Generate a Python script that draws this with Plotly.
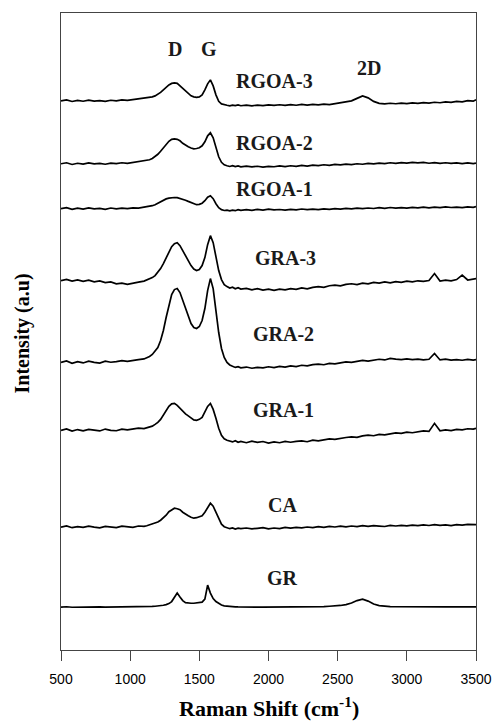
import plotly.graph_objects as go

# Raman shift sampling positions (cm^-1)
shift = [500, 540, 580, 620, 660, 700, 740, 780, 820, 860, 900, 940, 980, 1020, 1060, 1100,
         1120, 1140, 1160, 1180, 1200, 1220, 1240, 1260, 1280, 1300,
         1320, 1340, 1360, 1380, 1400, 1420, 1440, 1460, 1480, 1500, 1520, 1540, 1560, 1580, 1600,
         1620, 1640, 1660, 1680, 1700, 1720, 1740, 1760, 1780, 1800,
         1840, 1880, 1920, 1960, 2000, 2040, 2080, 2120, 2160, 2200, 2240, 2280, 2320, 2360, 2400,
         2440, 2480, 2520, 2560,
         2600, 2640, 2680, 2720, 2760, 2800, 2840, 2880, 2920, 2960, 3000, 3040, 3080, 3120, 3160,
         3200, 3240, 3280, 3320, 3360, 3400, 3440, 3480, 3500]

# Stacked intensities (a.u., offset for display)
gr = [43, 43.3, 42.8, 43, 43.2, 43, 42.9, 43.1, 43, 43, 43.2, 43, 42.9, 43.1, 43.2, 43.3,
      43.4, 43.5, 43.6, 43.8, 44, 44.3, 44.8, 45.5, 46.5, 48.5,
      53, 57, 53, 49.5, 47.5, 47, 46.8, 46.8, 47, 47.2, 48, 51, 65, 57, 51.5, 48.5, 46.5, 45, 44.2, 43.8, 43.5, 43.3, 43.2, 43.1, 43,
      43, 43.1, 42.9, 43, 43, 43.1, 43, 42.9, 43, 43.1, 43, 43, 43.2, 43.3, 43.5, 43.8, 44.1, 44.6, 45.5,
      47, 49.5, 51, 49, 46, 44.5, 43.8, 43.5, 43.3, 43.2, 43.2, 43.1, 43.2, 43, 43.1, 43.2, 43, 43.1, 43.2, 43, 43.1, 43.2, 43.1, 43.2]

ca = [123, 124.2, 122.5, 123.6, 122.8, 124, 123.1, 122.4, 123.8, 123, 122.6, 124.1, 123.3, 122.9, 124.2, 123.8,
      124.5, 125.5, 126, 127.5, 128.2, 130, 132.5, 135, 138.5, 140.5,
      142, 141.5, 140.5, 138, 136, 134.5, 133, 132, 132.5, 133.5, 134.5, 138, 143, 147, 144, 138, 131, 126, 123.5, 122.5, 121.5, 122.3, 121.2, 122, 121.5,
      122.2, 121.3, 121.9, 122.5, 121.4, 122.2, 121.6, 122.8, 122.1, 122.9, 122.4, 123.2, 122.6, 123.5, 122.9, 123.8, 123.2, 124.1, 123.4,
      124.2, 123.6, 124.5, 123.9, 124.6, 124.1, 123.7, 124.8, 124.2, 124.9, 124.4, 125.1, 124.5, 125.3, 124.7, 125.6, 124.9, 125.3, 124.6, 125.5, 125.1, 125.8, 125.2, 125.6]

gra1 = [220, 221.5, 219.2, 220.8, 219.5, 221, 220.2, 219.4, 221.3, 220, 219.6, 221.2, 220.5, 221.6, 222.2, 221.8,
        222.5, 223.5, 224.2, 226, 228, 231, 235, 239.5, 244, 246.5,
        247, 245, 242, 238.5, 236.5, 234.5, 232, 230.5, 230, 231, 233, 238, 244, 247, 241, 232, 222, 215, 211.5, 210, 209.5, 208.4, 209.6, 208, 209,
        207.6, 209.1, 207.9, 208.8, 207.2, 208.5, 207.6, 209, 208.1, 208.9, 209.5, 208.6, 210.2, 209.4, 210.8, 211.5, 210.9, 212.2, 212.8,
        213.5, 212.9, 214.4, 215.2, 214.6, 216, 215.5, 216.8, 217.4, 216.9, 218.2, 217.6, 218.8, 219.5, 218.9, 227, 219.6, 220.4, 219.8, 221, 220.5, 221.6, 221.2, 222]

gra2 = [288, 289.5, 287.2, 288.8, 287.5, 289.2, 288.1, 287.4, 289.3, 288.2, 288.9, 289.8, 289.1, 290.2, 290.8, 291.5,
        292.5, 294, 296, 299, 303, 310, 320, 333, 346, 356,
        361, 362, 358, 350, 341, 333, 327, 323, 322, 324, 330, 342, 360, 372, 362, 340, 318, 302, 293, 288, 285.5, 284.2, 283, 283.8, 282.6,
        283.4, 282.2, 283.1, 282.5, 283.7, 282.8, 284, 283.3, 284.6, 283.9, 285.2, 284.5, 285.8, 286.4, 285.7, 287, 286.5, 287.8, 288.6,
        288, 289.3, 290.1, 289.4, 290.6, 291.2, 290.5, 292, 291.3, 290.8, 291.6, 290.9, 291.4, 290.6, 291.2, 297, 290.5, 291.3, 290.4, 290.9, 290.2, 291, 290.4, 290.8]

gra3 = [370, 371.2, 369.5, 370.6, 369.2, 370.4, 368.8, 369.6, 367.9, 368.6, 366.8, 367.5, 366.2, 367.6, 368.4, 369.5,
        370.5, 371.5, 373, 375, 378, 382, 387, 393, 399, 404,
        407, 408, 405, 400, 394, 389, 385, 381.5, 380, 381, 385, 393, 406, 415, 408, 394, 380, 371, 366, 364, 362.5, 363.4, 361.8, 362.9, 361.5,
        362.2, 360.8, 361.9, 360.5, 361.4, 360.2, 361.5, 360.7, 362, 361.2, 362.6, 361.8, 363.2, 364, 363.3, 364.8, 365.5, 364.7, 366.2,
        366.8, 366, 367.5, 366.8, 368.2, 367.4, 368.6, 367.8, 369, 368.3, 369.4, 368.7, 369.8, 369.2, 370, 377, 369.6, 370.5, 369.8, 371, 375.5, 370.6, 371.5, 372]

rgoa1 = [442, 443, 441.3, 442.5, 441.6, 442.8, 441.8, 442.3, 441.4, 442.7, 441.9, 442.6, 442.1, 442.9, 442.5, 443.2,
         443.6, 444.2, 445, 446, 447.5, 449, 450.5, 451.8, 452.6, 453,
         453.2, 453, 452.4, 451.5, 450.5, 449.3, 448, 446.8, 446, 446.3, 447.5, 450, 453.5, 455, 452, 447, 443, 441, 440.2, 440.5, 439.8, 440.6, 440, 441, 440.3,
         441.1, 440.4, 441.3, 440.6, 441.5, 440.8, 441.2, 440.5, 441.4, 440.9, 441.7, 441, 441.6, 441.1, 441.9, 441.3, 442, 441.5, 442.3,
         441.8, 442.5, 442, 442.7, 442.2, 443, 442.4, 443.2, 442.6, 443.1, 442.5, 443.3, 442.8, 443.5, 442.9, 443.6, 443.1, 443.8, 443.2, 443.6, 443, 443.9, 443.4, 444]

rgoa2 = [487, 488, 486.3, 487.5, 486.6, 487.8, 486.9, 487.3, 486.5, 487.7, 487.1, 488, 487.4, 488.3, 488.8, 489.5,
         490, 491, 492.3, 494, 496.5, 499.5, 503, 506.5, 509.5, 511.5,
         512, 511.5, 510, 507.5, 505.5, 504, 502.8, 502, 502.3, 503, 505, 509, 515, 518, 513, 503, 494, 488.5, 486, 485, 484.3, 485.1, 484.2, 484.8, 483.9,
         484.6, 483.8, 484.5, 483.7, 484.4, 484, 484.8, 484.1, 485, 484.4, 485.3, 484.7, 485.6, 485.1, 486, 485.4, 486.3, 485.8, 486.6,
         486.2, 487, 486.5, 487.3, 486.8, 487.6, 487.1, 488, 487.4, 488.2, 487.6, 488.4, 487.8, 488.3, 487.5, 488.2, 487.4, 488, 487.3, 487.9, 487.2, 487.8, 487.1, 487.6]

rgoa3 = [550, 551, 549.4, 550.5, 549.6, 550.8, 549.8, 550.3, 549.5, 550.6, 550, 550.9, 550.4, 551.2, 551.6, 552.2,
         552.6, 553.3, 554, 555, 556.5, 558.5, 561, 563.5, 566, 567.5,
         568, 567.5, 565, 562, 559, 556.5, 555, 554, 553.5, 554, 556, 561, 567, 571, 565, 556, 549.5, 547, 546, 545.6, 545, 545.8, 545.2, 545.9, 545.1,
         545.7, 545, 545.8, 545.3, 546, 545.4, 546.1, 545.5, 546.2, 545.6, 546.4, 545.8, 546.5, 546, 546.8, 546.3, 547.2, 547.8, 548.5,
         550, 552.5, 555, 553, 549.5, 547.5, 547, 547.6, 547.1, 547.8, 547.3, 548, 547.5, 548.3, 547.8, 548.6, 548.1, 549, 548.5, 549.4, 549, 550.2, 549.7, 551]

series = [gr, ca, gra1, gra2, gra3, rgoa1, rgoa2, rgoa3]
names = ["GR", "CA", "GRA-1", "GRA-2", "GRA-3", "RGOA-1", "RGOA-2", "RGOA-3"]

# Label texts and their (shift, intensity) anchor positions
label_text = ["D", "G", "2D", "RGOA-3", "RGOA-2", "RGOA-1", "GRA-3", "GRA-2", "GRA-1", "CA", "GR"]
label_x = [1324, 1570, 2725, 2042, 2042, 2042, 2120, 2110, 2110, 2099, 2099]
label_y = [602, 602, 583, 570, 508, 462, 393, 317, 240, 145, 72]

x_ticks = [500, 1000, 1500, 2000, 2500, 3000, 3500]

fig = go.Figure()
for n, s in zip(names, series):
    assert len(s) == len(shift), n
    fig.add_trace(go.Scatter(x=shift, y=s, mode="lines", name=n,
                             line=dict(color="black", width=1.7)))

serif = "Liberation Serif, Times New Roman, serif"
for t, lx, ly in zip(label_text, label_x, label_y):
    fig.add_annotation(x=lx, y=ly, xref="x", yref="y", text="<b>" + t + "</b>",
                       showarrow=False, font=dict(family=serif, size=20, color="#1a1a1a"),
                       xanchor="center", yanchor="middle")

fig.add_annotation(x=0.5, y=-0.0893, xref="paper", yref="paper",
                   text="<b>Raman Shift (cm<sup>-1</sup>)</b>", showarrow=False,
                   font=dict(family=serif, size=22, color="black"),
                   xanchor="center", yanchor="middle")
fig.add_annotation(x=-0.0939, y=0.497, xref="paper", yref="paper",
                   text="<b>Intensity (a.u)</b>", showarrow=False, textangle=-90,
                   font=dict(family=serif, size=20, color="black"),
                   xanchor="center", yanchor="middle")

fig.update_layout(
    width=504, height=725,
    margin=dict(l=61, r=17, t=12, b=75),
    plot_bgcolor="white", paper_bgcolor="white",
    showlegend=False,
    xaxis=dict(range=[500, 3500], tickvals=x_ticks, ticktext=[str(v) for v in x_ticks],
               ticks="outside", ticklen=10, tickcolor="#444", tickwidth=1,
               showline=True, linecolor="#444", linewidth=1, mirror=True,
               showgrid=False, zeroline=False, ticklabelstandoff=6,
               tickfont=dict(family="Liberation Sans, Arial, sans-serif", size=14, color="black")),
    yaxis=dict(range=[0, 638], showticklabels=False, ticks="",
               showline=True, linecolor="#444", linewidth=1, mirror=True,
               showgrid=False, zeroline=False),
)

fig.write_html("out.html")
